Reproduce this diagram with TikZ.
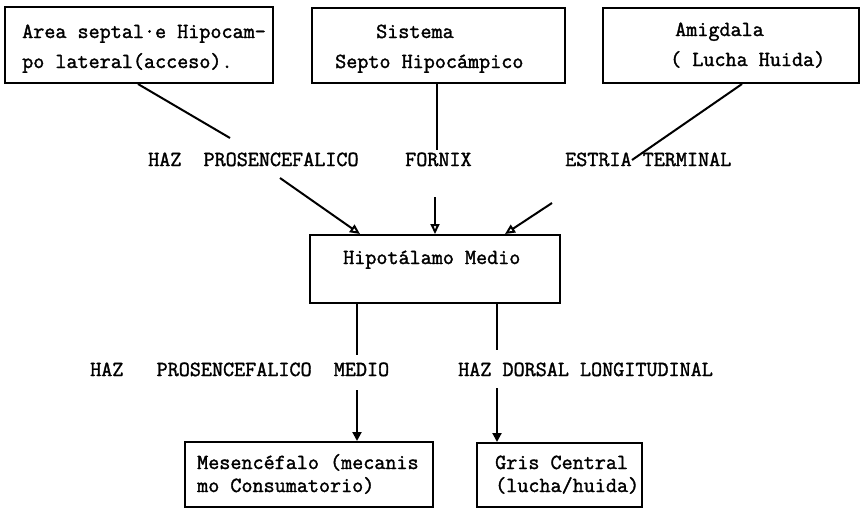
\documentclass[tikz,border=0pt]{standalone}
\usepackage{fontspec}
\setmonofont{Latin Modern Mono}[BoldFont={Latin Modern Mono},BoldFeatures={FakeBold=1.6}]
\usetikzlibrary{arrows.meta}
\begin{document}
\begin{tikzpicture}[x=1pt,y=-1pt,
  box/.style={draw, line width=2pt, rectangle, inner sep=0pt},
  txt/.style={anchor=base west, inner sep=0pt, font=\ttfamily\bfseries\fontsize{21.5}{24}\selectfont},
  wire/.style={line width=2pt},
  inarrow/.style={line width=2pt, -{Triangle[open,length=10pt,width=9pt]}},
  outarrow/.style={line width=2pt, -{Triangle[length=9pt,width=9pt]}}]
\useasboundingbox (0,0) rectangle (862,509);
% boxes
\node[box, minimum width=268pt, minimum height=76pt] (A) at (139,45) {};
\node[box, minimum width=253pt, minimum height=75pt] (B) at (438.5,45.5) {};
\node[box, minimum width=256pt, minimum height=75pt] (C) at (731,45.5) {};
\node[box, minimum width=250pt, minimum height=68pt] (H) at (435,269) {};
\node[box, minimum width=248pt, minimum height=65pt] (M) at (309,474.5) {};
\node[box, minimum width=165pt, minimum height=64pt] (G) at (559.5,475) {};
% box texts
\node[txt] (A1) at (22,38) {Area septal·e Hipocam-};
\node[txt] (A2) at (22,68) {po lateral(acceso).};
\node[txt] (B1) at (376,38) {Sistema};
\node[txt] (B2) at (335,68) {Septo Hipocámpico};
\node[txt] (C1) at (675,36) {Amigdala};
\node[txt] (C2) at (670,66) {( Lucha Huida)};
\node[txt] (H1) at (343,264) {Hipotálamo Medio};
\node[txt] (M1) at (197,469) {Mesencéfalo (mecanis};
\node[txt] (M2) at (197,492) {mo Consumatorio)};
\node[txt] (G1) at (495,469) {Gris Central};
\node[txt] (G2) at (495,492) {(lucha/huida)};
% pathway labels
\node[txt] (L1) at (148,166) {HAZ\ \ PROSENCEFALICO};
\node[txt] (L2) at (405,166) {FORNIX};
\node[txt] (L3) at (565,166) {ESTRIA TERMINAL};
\node[txt] (L4) at (90,376) {HAZ\ \ \ PROSENCEFALICO\ \ MEDIO};
\node[txt] (L5) at (458,376) {HAZ DORSAL LONGITUDINAL};
% free ends
\coordinate (a1) at (230,138);
\coordinate (b1) at (437,150);
\coordinate (c1) at (632,160);
\coordinate (p1) at (280,178);
\coordinate (f1) at (435,197);
\coordinate (e1) at (552,203);
\coordinate (m0) at (357,355);
\coordinate (m1) at (357,390);
\coordinate (d0) at (497,350);
\coordinate (d1) at (497,388);
% upper connectors
\draw[wire] ([xshift=-1pt]A.south) -- (a1);
\draw[wire] ([xshift=-1.5pt]B.south) -- (b1);
\draw[wire] ([xshift=11pt]C.south) -- (c1);
\draw[inarrow] (p1) -- ([xshift=-75pt]H.north);
\draw[inarrow] (f1) -- (H.north);
\draw[inarrow] (e1) -- ([xshift=70pt]H.north);
% lower connectors
\draw[wire] ([xshift=-78pt]H.south) -- (m0);
\draw[outarrow] (m1) -- ([xshift=48pt]M.north);
\draw[wire] ([xshift=62pt]H.south) -- (d0);
\draw[outarrow] (d1) -- ([xshift=-62.5pt]G.north);
\end{tikzpicture}
\end{document}
